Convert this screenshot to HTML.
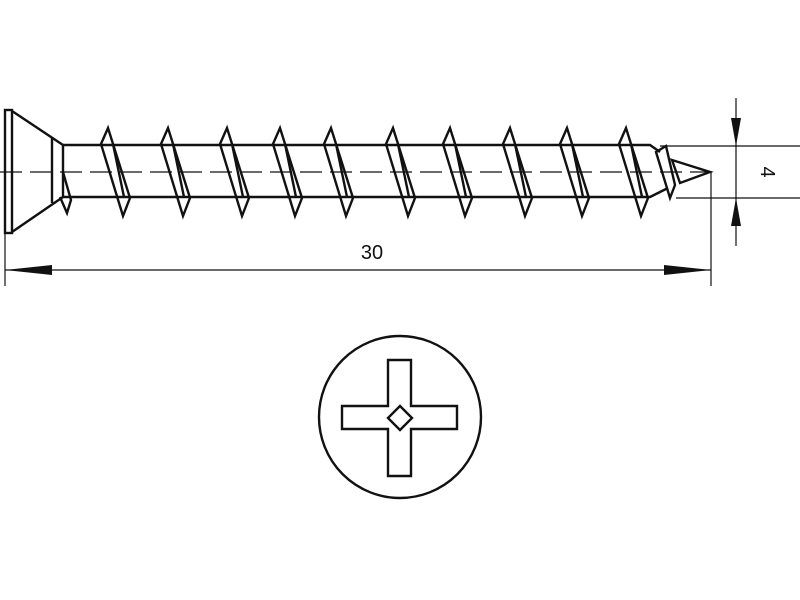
<!DOCTYPE html>
<html><head><style>body{margin:0;background:#fff}svg{display:block}</style></head><body>
<svg width="800" height="600" viewBox="0 0 800 600" xmlns="http://www.w3.org/2000/svg">
<g fill="none" stroke="#111" stroke-width="2.4" stroke-linejoin="miter">
<rect x="5" y="110" width="7" height="123"/>
<path d="M12 111 L63 145 M12 232 L63 197 M52 138 V203 M63 145 V197"/>
<path d="M63 145 H650 L660 152 M63 197 H650 L668 188"/>
<path d="M60 197 L67 213 L71 200 L63 172"/>
<g id="th">
<polygon points="101,144 108,128 130,198 123,216"/>
<line x1="113" y1="144" x2="124" y2="197"/>
</g>
<use href="#th" x="60"/><use href="#th" x="119"/><use href="#th" x="172"/><use href="#th" x="223"/><use href="#th" x="285"/><use href="#th" x="342"/><use href="#th" x="402"/><use href="#th" x="459"/><use href="#th" x="518"/>
<polygon points="656,152 666,146 675,185 670,198"/>
<path d="M672 160 L710 172 L680 183 Z"/>
<circle cx="400" cy="417" r="81"/>
<path d="M388 360 H411 V406 H457 V429 H411 V476 H388 V429 H342 V406 H388 Z"/>
<path d="M400 406 L412 418 L400 430 L388 418 Z"/>
</g>
<g stroke="#111" stroke-width="1.2" fill="none">
<line x1="0" y1="172" x2="720" y2="172" stroke-dasharray="22,8"/>
<path d="M660 146 H800 M676 198 H800 M736 98 V246 M711 172 V286 M5 233 V286 M5 270 H711"/>
</g>
<g fill="#111">
<polygon points="731,118 741,118 736,146"/>
<polygon points="731,226 741,226 736,198"/>
<polygon points="5,270 52,265 52,275"/>
<polygon points="711,270 664,265 664,275"/>
</g>
<text x="372" y="259" font-family="Liberation Sans, sans-serif" font-size="20" text-anchor="middle" fill="#111">30</text>
<text transform="translate(761,172) rotate(90)" font-family="Liberation Sans, sans-serif" font-size="20" text-anchor="middle" fill="#111">4</text>
</svg>
</body></html>
